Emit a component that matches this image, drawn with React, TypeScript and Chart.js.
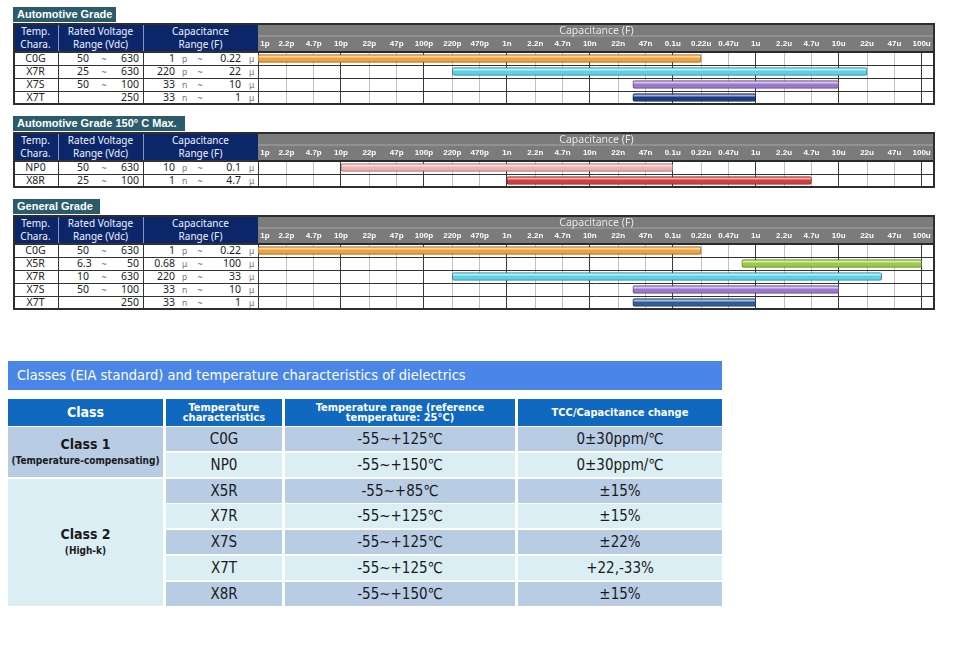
import React, { useEffect, useRef } from 'react';
import { Chart, registerables } from 'chart.js';
Chart.register(...registerables);

// ---------- capacitance axis ----------
const CAP_TICKS = ['1p', '2.2p', '4.7p', '10p', '22p', '47p', '100p', '220p', '470p', '1n', '2.2n', '4.7n', '10n', '22n', '47n', '0.1u', '0.22u', '0.47u', '1u', '2.2u', '4.7u', '10u', '22u', '47u', '100u'];
const CAP_AXIS_MAX = '145u';
const CAP_TITLE = 'Capacitance (F)';

// ---------- Automotive Grade ----------
const AUTO_TYPES = ['C0G', 'X7R', 'X7S', 'X7T'];
const AUTO_V_MIN = ['50', '25', '50', ''];
const AUTO_V_MAX = ['630', '630', '100', '250'];
const AUTO_C_MIN = ['1p', '220p', '33n', '33n'];
const AUTO_C_MAX = ['0.22u', '22u', '10u', '1u'];

// ---------- Automotive Grade 150° C Max. ----------
const A150_TYPES = ['NP0', 'X8R'];
const A150_V_MIN = ['50', '25'];
const A150_V_MAX = ['630', '100'];
const A150_C_MIN = ['10p', '1n'];
const A150_C_MAX = ['0.1u', '4.7u'];

// ---------- General Grade ----------
const GEN_TYPES = ['C0G', 'X5R', 'X7R', 'X7S', 'X7T'];
const GEN_V_MIN = ['50', '6.3', '10', '50', ''];
const GEN_V_MAX = ['630', '50', '630', '100', '250'];
const GEN_C_MIN = ['1p', '0.68u', '220p', '33n', '33n'];
const GEN_C_MAX = ['0.22u', '100u', '33u', '10u', '1u'];

// ---------- Class table ----------
const CLASS_HEADERS = ['Class', 'Temperature\ncharacteristics', 'Temperature range (reference\ntemperature: 25°C)', 'TCC/Capacitance change'];
const CLASS_NAMES = ['Class 1', 'Class 2'];
const CLASS_NOTES = ['(Temperature-compensating)', '(High-k)'];
const CLASS_SPANS = [2, 5];
const CLASS_TC = ['C0G', 'NP0', 'X5R', 'X7R', 'X7S', 'X7T', 'X8R'];
const CLASS_RANGE = ['-55~+125℃', '-55~+150℃', '-55~+85℃', '-55~+125℃', '-55~+125℃', '-55~+125℃', '-55~+150℃'];
const CLASS_TCC = ['0±30ppm/℃', '0±30ppm/℃', '±15%', '±15%', '±22%', '+22,-33%', '±15%'];
const CLASS_TITLE = 'Classes (EIA standard) and temperature characteristics of dielectrics';

// ---------- styles ----------
const AUTO_COLORS = ['#f4a234', '#55d4ec', '#9c76cf', '#1c3c84'];
const A150_COLORS = ['#f0b0b0', '#d83c3c'];
const GEN_COLORS = ['#f4a234', '#9ccc3c', '#55d4ec', '#9c76cf', '#2e5c9c'];

const HEADER_H = 29;
const ROW_H = 13;
const TABLE_L = 13;
const TABLE_R = 935;
const COL_X = [13, 58, 143, 258];
const NAVY = '#0c2769';
const TAB_BG = '#2b5c6c';
const F_TXT = '"Noto Sans", "Liberation Sans", Arial, sans-serif';
const F_COND = '"Liberation Sans Narrow", "DejaVu Sans Condensed", "Arial Narrow", sans-serif';

const PREFIX_PF: Record<string, number> = { p: 1, n: 1e3, u: 1e6 };
function parseCap(s: string): number {
  const m = /^([\d.]+)([pnu])$/.exec(s) as RegExpExecArray;
  return parseFloat(m[1]) * PREFIX_PF[m[2]];
}
function splitCap(s: string): [string, string] {
  const m = /^([\d.]+)([pnu])$/.exec(s) as RegExpExecArray;
  return [m[1], m[2] === 'u' ? 'μ' : m[2]];
}
function mix(hex: string, t: number): string {
  const n = parseInt(hex.slice(1), 16);
  const target = t < 0 ? 0 : 255;
  const a = Math.abs(t);
  const ch = [n >> 16, (n >> 8) & 255, n & 255].map((v) => Math.round(v + (target - v) * a));
  return `rgb(${ch[0]},${ch[1]},${ch[2]})`;
}
function isDecade(v: number): boolean {
  const l = Math.log10(v);
  return Math.abs(l - Math.round(l)) < 1e-6;
}

const headerPlugin = {
  id: 'capHeader',
  beforeDraw(chart: any) {
    const { ctx, chartArea, width, height } = chart;
    ctx.save();
    ctx.fillStyle = '#ffffff';
    ctx.fillRect(0, 0, width, height);
    ctx.fillStyle = '#7b7b7b';
    ctx.fillRect(0, 0, width, chartArea.top);
    ctx.fillStyle = '#a8a8a8';
    ctx.fillRect(0, 12.5, width, 1);
    ctx.restore();
  },
};

function CapChart({ types, cMin, cMax, colors }: { types: string[]; cMin: string[]; cMax: string[]; colors: string[] }) {
  const ref = useRef<HTMLCanvasElement>(null);
  const width = TABLE_R - COL_X[3];
  const height = HEADER_H + types.length * ROW_H;
  useEffect(() => {
    const tickValues = CAP_TICKS.map(parseCap);
    const axisMax = parseCap(CAP_AXIS_MAX);
    const chart = new Chart(ref.current as HTMLCanvasElement, {
      type: 'bar',
      data: {
        labels: types,
        datasets: [
          {
            data: types.map((_, i) => [parseCap(cMin[i]), parseCap(cMax[i])]) as any,
            backgroundColor: (c: any) => {
              const base = colors[c.dataIndex ?? 0];
              const ys = c.chart.scales && c.chart.scales.y;
              if (c.dataIndex == null || !ys) return base;
              const yc = ys.getPixelForValue(c.dataIndex);
              if (!Number.isFinite(yc)) return base;
              const g = c.chart.ctx.createLinearGradient(0, yc - 4, 0, yc + 4);
              g.addColorStop(0, mix(base, -0.15));
              g.addColorStop(0.25, mix(base, 0.6));
              g.addColorStop(0.5, base);
              g.addColorStop(0.8, base);
              g.addColorStop(1, mix(base, -0.3));
              return g;
            },
            borderColor: (c: any) => mix(colors[c.dataIndex ?? 0], -0.35),
            borderWidth: 1,
            borderSkipped: false,
            borderRadius: 2,
            barThickness: 8,
          } as any,
        ],
      },
      options: {
        indexAxis: 'y',
        animation: false,
        responsive: false,
        maintainAspectRatio: false,
        layout: { padding: 0 },
        plugins: { legend: { display: false }, tooltip: { enabled: false } },
        scales: {
          x: {
            type: 'logarithmic',
            position: 'top',
            min: 1,
            max: axisMax,
            afterBuildTicks: (s: any) => {
              s.ticks = [...tickValues.map((v) => ({ value: v })), { value: axisMax }];
            },
            afterFit: (s: any) => {
              s.height = HEADER_H;
              s.paddingLeft = 0;
              s.paddingRight = 0;
            },
            ticks: {
              autoSkip: false,
              maxRotation: 0,
              minRotation: 0,
              align: 'inner',
              padding: 4.5,
              color: '#ffffff',
              font: { family: '"Liberation Sans", Arial, sans-serif', size: 8, weight: 'bold', lineHeight: 1 },
              callback: (_v: any, i: number) => (i < CAP_TICKS.length ? (i === 0 ? ' ' + CAP_TICKS[i] : CAP_TICKS[i]) : ''),
            },
            grid: {
              drawTicks: false,
              lineWidth: 1,
              color: (c: any) => {
                const v = c.tick ? c.tick.value : 0;
                if (v >= axisMax) return 'rgba(0,0,0,0)';
                return isDecade(v) ? '#3a3a3a' : '#c2c2c2';
              },
            },
            border: { display: true, color: '#2a2a2a', width: 2 },
            title: {
              display: true,
              text: CAP_TITLE,
              color: '#e8e8e8',
              font: { family: F_TXT, size: 10.5, lineHeight: 1.15 },
              padding: { top: 1.5, bottom: 0 },
            },
          } as any,
          y: {
            type: 'category',
            offset: true,
            grid: { offset: true, drawTicks: false, color: '#333333', lineWidth: 1 },
            ticks: { display: false },
            border: { display: false },
            afterFit: (s: any) => {
              s.width = 0;
            },
          } as any,
        },
      },
      plugins: [headerPlugin],
    });
    return () => chart.destroy();
  }, []);
  return (
    <canvas
      ref={ref}
      width={width}
      height={height}
      style={{ position: 'absolute', left: COL_X[3] - TABLE_L, top: 0, width, height, display: 'block' }}
    />
  );
}

function T({ l, w, y, a, children, st }: { l: number; w: number; y: number; a: 'left' | 'right' | 'center'; children: any; st?: any }) {
  return (
    <div
      style={{
        position: 'absolute',
        left: l,
        top: y,
        width: w,
        height: ROW_H,
        lineHeight: ROW_H + 'px',
        textAlign: a,
        whiteSpace: 'nowrap',
        fontFamily: F_TXT,
        fontSize: 10.5,
        color: '#222',
        ...st,
      }}
    >
      {children}
    </div>
  );
}

function GradeBlock(props: {
  top: number;
  title: string;
  tabWidth: number;
  types: string[];
  vMin: string[];
  vMax: string[];
  cMin: string[];
  cMax: string[];
  colors: string[];
}) {
  const { top, title, tabWidth, types, vMin, vMax, cMin, cMax, colors } = props;
  const n = types.length;
  const h = HEADER_H + n * ROW_H;
  const cx = COL_X.map((x) => x - TABLE_L);
  const headLines = [
    ['Temp.', 'Chara.'],
    ['Rated Voltage', 'Range (Vdc)'],
    ['Capacitance', 'Range (F)'],
  ];
  return (
    <>
      <div
        style={{
          position: 'absolute',
          left: TABLE_L,
          top: top - 16,
          width: tabWidth,
          height: 15,
          background: TAB_BG,
          color: '#fff',
          fontFamily: '"Liberation Sans", Arial, sans-serif',
          fontWeight: 'bold',
          fontSize: 11,
          lineHeight: '15px',
          paddingLeft: 4,
          boxSizing: 'border-box',
          whiteSpace: 'nowrap',
        }}
      >
        {title}
      </div>
      <div style={{ position: 'absolute', left: TABLE_L, top, width: TABLE_R - TABLE_L, height: h, background: '#fff' }}>
        <div style={{ position: 'absolute', left: 0, top: 0, width: cx[3], height: HEADER_H, background: NAVY }} />
        {headLines.map((ls, k) => (
          <div
            key={k}
            style={{
              position: 'absolute',
              left: cx[k],
              top: 1.5,
              width: cx[k + 1] - cx[k],
              textAlign: 'center',
              color: '#eef2ff',
              fontFamily: F_TXT,
              fontSize: 10,
              lineHeight: '13px',
            }}
          >
            {ls[0]}
            <br />
            {ls[1]}
          </div>
        ))}
        {[1, 2].map((k) => (
          <div key={'hv' + k} style={{ position: 'absolute', left: cx[k], top: 0, width: 1, height: HEADER_H, background: 'rgba(190,200,225,0.7)' }} />
        ))}
        {types.map((t, i) => {
          const y = HEADER_H + i * ROW_H;
          const [n1, u1] = splitCap(cMin[i]);
          const [n2, u2] = splitCap(cMax[i]);
          const vx = cx[1];
          const cc = cx[2];
          return (
            <React.Fragment key={i}>
              <T l={cx[0]} w={cx[1] - cx[0]} y={y} a="center">{t}</T>
              <T l={vx + 19} w={30} y={y} a="left">{vMin[i]}</T>
              {vMin[i] !== '' && (
                <T l={vx + 36} w={20} y={y} a="center" st={{ color: '#666', fontSize: 9 }}>~</T>
              )}
              <T l={vx} w={81} y={y} a="right">{vMax[i]}</T>
              <T l={cc} w={32} y={y} a="right">{n1}</T>
              <T l={cc + 39} w={12} y={y} a="left" st={{ color: '#777', fontSize: 8.5 }}>{u1}</T>
              <T l={cc + 47} w={20} y={y} a="center" st={{ color: '#666', fontSize: 9 }}>~</T>
              <T l={cc} w={98} y={y} a="right">{n2}</T>
              <T l={cc + 106} w={12} y={y} a="left" st={{ color: '#777', fontSize: 8.5 }}>{u2}</T>
            </React.Fragment>
          );
        })}
        {Array.from({ length: n + 1 }, (_, i) => (
          <div
            key={'hl' + i}
            style={{
              position: 'absolute',
              left: 0,
              top: HEADER_H + i * ROW_H - (i === 0 ? 1 : 0),
              width: cx[3],
              height: i === 0 ? 2 : 1,
              background: '#333',
            }}
          />
        ))}
        {[1, 2, 3].map((k) => (
          <div key={'dv' + k} style={{ position: 'absolute', left: cx[k], top: HEADER_H, width: 1, height: n * ROW_H, background: '#333' }} />
        ))}
        <CapChart types={types} cMin={cMin} cMax={cMax} colors={colors} />
        <div
          style={{
            position: 'absolute',
            left: 0,
            top: 0,
            width: TABLE_R - TABLE_L,
            height: h + 1,
            border: '2px solid #2e2e2e',
            boxSizing: 'border-box',
            pointerEvents: 'none',
          }}
        />
      </div>
    </>
  );
}

function ClassTable() {
  const colL = [8, 166, 285, 518];
  const colW = [155, 116, 230, 204];
  const rowTop = (i: number) => 427 + i * 25.83;
  const rowH = 24;
  const dark = '#b8cce4';
  const light = '#dbeef4';
  const groupStarts = CLASS_SPANS.map((_, g) => CLASS_SPANS.slice(0, g).reduce((a, b) => a + b, 0));
  return (
    <>
      <div
        style={{
          position: 'absolute',
          left: 8,
          top: 361,
          width: 714,
          height: 29,
          background: '#4a86e8',
          color: '#fff',
          fontFamily: F_COND,
          fontSize: 14.5,
          lineHeight: '29px',
          paddingLeft: 9,
          boxSizing: 'border-box',
          whiteSpace: 'nowrap',
        }}
      >
        {CLASS_TITLE}
      </div>
      {CLASS_HEADERS.map((hd, k) => (
        <div
          key={'h' + k}
          style={{
            position: 'absolute',
            left: colL[k],
            top: 399,
            width: colW[k],
            height: 27,
            background: '#1069bf',
            color: '#fff',
            fontFamily: F_COND,
            fontWeight: 'bold',
            fontSize: k === 0 ? 14 : 11,
            lineHeight: k === 0 ? '27px' : '10px',
            textAlign: 'center',
            display: 'flex',
            flexDirection: 'column',
            justifyContent: 'center',
            whiteSpace: 'nowrap',
          }}
        >
          {hd.split('\n').map((s, j) => (
            <div key={j}>{s}</div>
          ))}
        </div>
      ))}
      {CLASS_NAMES.map((nm, g) => {
        const r0 = groupStarts[g];
        const r1 = r0 + CLASS_SPANS[g] - 1;
        const top = rowTop(r0);
        const hgt = rowTop(r1) + rowH - top;
        return (
          <div
            key={'g' + g}
            style={{
              position: 'absolute',
              left: colL[0],
              top,
              width: colW[0],
              height: hgt,
              background: g === 0 ? dark : light,
              color: '#1a1a1a',
              fontFamily: F_COND,
              fontWeight: 'bold',
              textAlign: 'center',
              display: 'flex',
              flexDirection: 'column',
              justifyContent: 'center',
              whiteSpace: 'nowrap',
            }}
          >
            <div style={{ fontSize: 14, lineHeight: '18px' }}>{nm}</div>
            <div style={{ fontSize: 10, lineHeight: '16px' }}>{CLASS_NOTES[g]}</div>
          </div>
        );
      })}
      {CLASS_TC.map((tc, i) => {
        const vals = [tc, CLASS_RANGE[i], CLASS_TCC[i]];
        return vals.map((v, k) => (
          <div
            key={'c' + i + '_' + k}
            style={{
              position: 'absolute',
              left: colL[k + 1],
              top: rowTop(i),
              width: colW[k + 1],
              height: rowH,
              lineHeight: rowH + 'px',
              background: i % 2 === 0 ? dark : light,
              color: '#1a1a1a',
              fontFamily: F_COND,
              fontSize: 15,
              textAlign: 'center',
              whiteSpace: 'nowrap',
            }}
          >
            {v}
          </div>
        ));
      })}
    </>
  );
}

export default function App() {
  return (
    <div style={{ position: 'absolute', left: 0, top: 0, width: 980, height: 650, background: '#fff', overflow: 'hidden' }}>
      <GradeBlock top={23} title="Automotive Grade" tabWidth={103} types={AUTO_TYPES} vMin={AUTO_V_MIN} vMax={AUTO_V_MAX} cMin={AUTO_C_MIN} cMax={AUTO_C_MAX} colors={AUTO_COLORS} />
      <GradeBlock top={132} title="Automotive Grade 150° C Max." tabWidth={172} types={A150_TYPES} vMin={A150_V_MIN} vMax={A150_V_MAX} cMin={A150_C_MIN} cMax={A150_C_MAX} colors={A150_COLORS} />
      <GradeBlock top={215} title="General Grade" tabWidth={87} types={GEN_TYPES} vMin={GEN_V_MIN} vMax={GEN_V_MAX} cMin={GEN_C_MIN} cMax={GEN_C_MAX} colors={GEN_COLORS} />
      <ClassTable />
    </div>
  );
}
